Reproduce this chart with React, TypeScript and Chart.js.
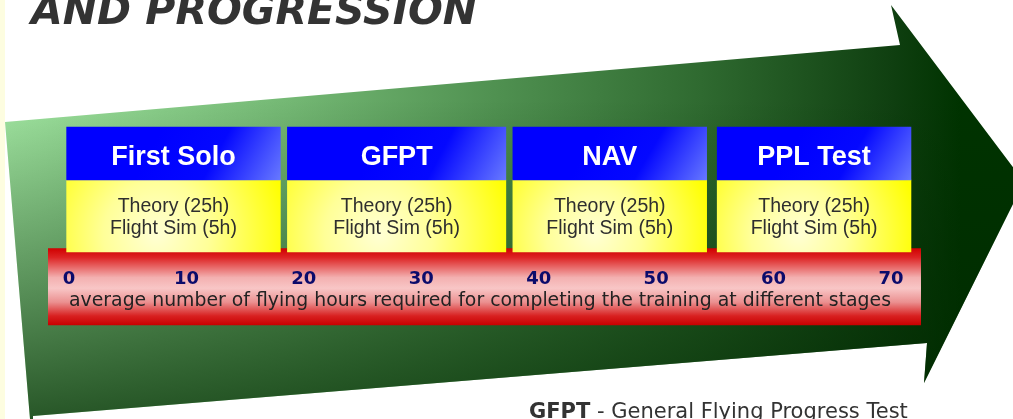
import React, { useEffect, useRef } from 'react';
import { Chart, registerables } from 'chart.js';

Chart.register(...registerables);

// ---- data ----
const STAGES = ['First Solo', 'GFPT', 'NAV', 'PPL Test'];
const STAGE_START_HOURS = [-0.2, 18.6, 37.8, 55.2];
const STAGE_END_HOURS = [18.0, 37.2, 54.3, 71.7];
const THEORY_HOURS = [25, 25, 25, 25];
const SIM_HOURS = [5, 5, 5, 5];
const ROWS = ['stage', 'training'];
const HOUR_TICKS = [0, 10, 20, 30, 40, 50, 60, 70];
const AXIS_TITLE =
  'average number of flying hours required for completing the training at different stages';
const CHART_TITLE = 'AND PROGRESSION';
const FOOTNOTE_ABBR = 'GFPT';
const FOOTNOTE_TEXT = ' - General Flying Progress Test';

// ---- styling constants ----
const HEADER_THICKNESS = 53;
const BODY_THICKNESS = 72;
const ARROW_SHAPE: [number, number][] = [
  [5, 122],
  [900, 45],
  [891, 5],
  [1024, 182],
  [924, 383],
  [927, 343],
  [33, 416],
  [33, 419],
  [30, 419],
];

function stagePixels(chart: any, i: number) {
  const xs = chart.scales.x;
  return {
    x0: xs.getPixelForValue(STAGE_START_HOURS[i]),
    x1: xs.getPixelForValue(STAGE_END_HOURS[i]),
  };
}

function headerFill(ctx: any) {
  const chart = ctx.chart;
  if (!chart.chartArea || ctx.type !== 'data') return '#0000ff';
  const { x0, x1 } = stagePixels(chart, ctx.dataIndex);
  const w = x1 - x0;
  const yc = chart.scales.y.getPixelForValue(0);
  const g = chart.ctx.createLinearGradient(
    x0 + w * 0.45,
    yc - HEADER_THICKNESS / 2,
    x1,
    yc + HEADER_THICKNESS / 2 + 10
  );
  g.addColorStop(0, '#0000ff');
  g.addColorStop(0.45, '#0408ff');
  g.addColorStop(1, '#6e80ff');
  return g;
}

function bodyFill(ctx: any) {
  const chart = ctx.chart;
  if (!chart.chartArea || ctx.type !== 'data') return '#ffff00';
  const { x0, x1 } = stagePixels(chart, ctx.dataIndex);
  const yc = chart.scales.y.getPixelForValue(1);
  const w = x1 - x0;
  const g = chart.ctx.createRadialGradient(x0 + w * 0.42, yc + 18, 0, x0 + w * 0.42, yc + 18, w * 0.62);
  g.addColorStop(0, '#ffffd4');
  g.addColorStop(0.4, '#ffff98');
  g.addColorStop(1, '#ffff00');
  return g;
}

const decorPlugin = {
  id: 'decor',
  beforeDraw(chart: any) {
    const { ctx, width, height } = chart;
    ctx.save();
    ctx.fillStyle = '#ffffff';
    ctx.fillRect(0, 0, width, height);
    ctx.fillStyle = '#fdfde0';
    ctx.fillRect(0, 0, 5, height);

    // arrow
    ctx.beginPath();
    ARROW_SHAPE.forEach(([x, y], i) => (i ? ctx.lineTo(x, y) : ctx.moveTo(x, y)));
    ctx.closePath();
    const g = ctx.createLinearGradient(0, 0, 960, 0);
    g.addColorStop(0, '#a2e6a2');
    g.addColorStop(0.3, '#74b874');
    g.addColorStop(0.52, '#4f9050');
    g.addColorStop(0.73, '#2f6a30');
    g.addColorStop(0.93, '#0f3f10');
    g.addColorStop(1, '#003300');
    ctx.fillStyle = g;
    ctx.fill();
    const v = ctx.createLinearGradient(0, 100, 0, 419);
    v.addColorStop(0, 'rgba(0,40,0,0)');
    v.addColorStop(1, 'rgba(0,40,0,0.75)');
    ctx.fillStyle = v;
    ctx.fill();

    // red band behind the hours axis
    const xs = chart.scales.x;
    const top = xs.top + 1;
    const bottom = xs.top + 78;
    const left = xs.left - 21;
    const right = xs.right + 30;
    const r = ctx.createLinearGradient(0, top, 0, bottom);
    r.addColorStop(0, '#d00000');
    r.addColorStop(0.12, '#dd2424');
    r.addColorStop(0.38, '#f3b0b0');
    r.addColorStop(0.52, '#f8c6c6');
    r.addColorStop(0.7, '#eb9090');
    r.addColorStop(0.88, '#d82020');
    r.addColorStop(1, '#c80000');
    ctx.fillStyle = r;
    ctx.fillRect(left, top, right - left, bottom - top);

    // title
    ctx.fillStyle = '#333333';
    ctx.textBaseline = 'alphabetic';
    ctx.textAlign = 'left';
    ctx.font = 'italic bold 41px "DejaVu Sans"';
    ctx.fillText(CHART_TITLE, 31, 24);

    // footnote
    ctx.font = 'bold 21px "DejaVu Sans"';
    ctx.fillText(FOOTNOTE_ABBR, 529, 418);
    const w = ctx.measureText(FOOTNOTE_ABBR).width;
    ctx.font = '21px "DejaVu Sans"';
    ctx.fillText(FOOTNOTE_TEXT, 529 + w, 418);
    ctx.restore();
  },
  afterDatasetsDraw(chart: any) {
    const { ctx } = chart;
    ctx.save();
    ctx.textAlign = 'center';
    ctx.textBaseline = 'alphabetic';
    const head = chart.getDatasetMeta(0);
    head.data.forEach((el: any, i: number) => {
      const cx = (el.x + el.base) / 2;
      ctx.fillStyle = '#ffffff';
      ctx.font = 'bold 27px "Liberation Sans"';
      ctx.fillText(STAGES[i], cx, el.y + 11.5);
    });
    const body = chart.getDatasetMeta(1);
    body.data.forEach((el: any, i: number) => {
      const cx = (el.x + el.base) / 2;
      ctx.fillStyle = '#2e2e2e';
      ctx.font = '19.5px "Liberation Sans"';
      ctx.fillText(`Theory (${THEORY_HOURS[i]}h)`, cx, el.y - 4.5);
      ctx.fillText(`Flight Sim (${SIM_HOURS[i]}h)`, cx, el.y + 17.5);
    });
    ctx.restore();
  },
};

export default function App() {
  const ref = useRef<HTMLCanvasElement>(null);
  useEffect(() => {
    const canvas = ref.current;
    if (!canvas) return;
    const chart = new Chart(canvas, {
      type: 'bar',
      data: {
        labels: ROWS,
        datasets: [
          {
            label: 'stage',
            data: STAGES.map((_, i) => ({ x: [STAGE_START_HOURS[i], STAGE_END_HOURS[i]], y: ROWS[0] })) as any,
            backgroundColor: headerFill,
            barThickness: HEADER_THICKNESS,
            grouped: false,
            clip: false as any,
            borderWidth: 0,
          },
          {
            label: 'training',
            data: STAGES.map((_, i) => ({ x: [STAGE_START_HOURS[i], STAGE_END_HOURS[i]], y: ROWS[1] })) as any,
            backgroundColor: bodyFill,
            barThickness: BODY_THICKNESS,
            grouped: false,
            clip: false as any,
            borderWidth: 0,
          },
        ],
      },
      options: {
        indexAxis: 'y',
        animation: false,
        responsive: true,
        maintainAspectRatio: false,
        layout: { padding: { left: 69, right: 122, top: 122.25, bottom: 106.6 } },
        plugins: { legend: { display: false }, tooltip: { enabled: false }, title: { display: false } },
        scales: {
          y: { type: 'category', display: false, offset: true },
          x: {
            type: 'linear',
            position: 'bottom',
            min: 0,
            max: 70,
            grid: { display: false, drawTicks: false },
            border: { display: false },
            afterBuildTicks: (scale: any) => {
              scale.ticks = HOUR_TICKS.map((v) => ({ value: v }));
            },
            ticks: {
              color: '#0b0b6b',
              font: { family: 'DejaVu Sans', size: 18, weight: 'bold', lineHeight: 1.2 },
              padding: 20.95,
              maxRotation: 0,
              autoSkip: false,
            },
            title: {
              display: true,
              text: AXIS_TITLE,
              color: '#222222',
              font: { family: 'DejaVu Sans', size: 19, lineHeight: 1.2 },
              padding: { top: -21.15, bottom: 0 },
            },
          },
        },
      },
      plugins: [decorPlugin],
    } as any);
    return () => chart.destroy();
  }, []);
  return (
    <div style={{ position: 'absolute', left: 0, top: 0, width: 1013, height: 419 }}>
      <canvas ref={ref} />
    </div>
  );
}
